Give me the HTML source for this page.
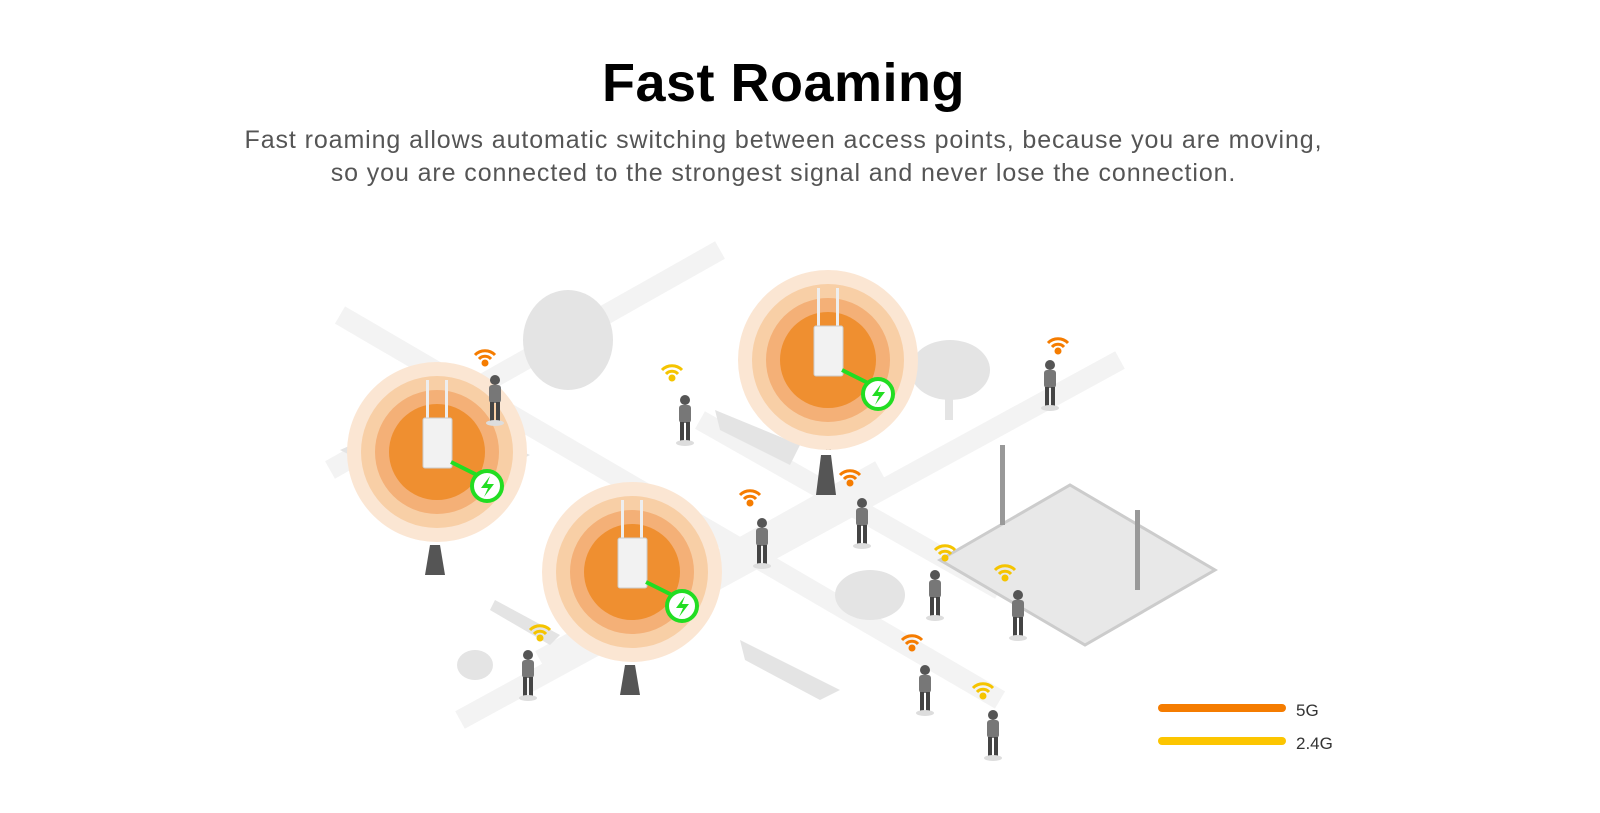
<!DOCTYPE html>
<html><head><meta charset="utf-8"><style>
html,body{margin:0;padding:0;background:#fff;width:1600px;height:813px;overflow:hidden;font-family:"Liberation Sans",sans-serif}
h1{position:absolute;top:52px;left:0;width:1567px;text-align:center;margin:0;font-size:54px;font-weight:bold;color:#000;letter-spacing:0.5px}
.sub{position:absolute;top:124px;left:0;width:1567px;text-align:center;font-size:25px;line-height:33px;color:#555;letter-spacing:0.9px}
svg{position:absolute;left:0;top:0}
</style></head><body>
<h1>Fast Roaming</h1>
<div class="sub">Fast roaming allows automatic switching between access points, because you are moving,<br>so you are connected to the strongest signal and never lose the connection.</div>
<svg width="1600" height="813" viewBox="0 0 1600 813">
<defs>
<g id="p"><circle cx="0" cy="-30" r="5" fill="#555"/><rect x="-6" y="-25" width="12" height="18" rx="3" fill="#777"/><rect x="-5" y="-8" width="4" height="20" fill="#444"/><rect x="1" y="-8" width="4" height="20" fill="#444"/><ellipse cx="0" cy="13" rx="9" ry="3" fill="#ddd"/></g>
<g id="wo" fill="none" stroke="#f57c00" stroke-width="3"><path d="M-10,-40 a14,14 0 0 1 20,0"/><path d="M-6,-36 a8,8 0 0 1 12,0"/><circle cx="0" cy="-32" r="2" fill="#f57c00"/></g>
<g id="wy" fill="none" stroke="#f5c400" stroke-width="3"><path d="M-10,-40 a14,14 0 0 1 20,0"/><path d="M-6,-36 a8,8 0 0 1 12,0"/><circle cx="0" cy="-32" r="2" fill="#f5c400"/></g>
<g id="ap"><circle r="90" fill="#fbe6d3"/><circle r="76" fill="#f8cfa6"/><circle r="62" fill="#f4b077"/><circle r="48" fill="#ef8f30"/>
<rect x="-11" y="-72" width="3" height="40" fill="#eee"/><rect x="8" y="-72" width="3" height="40" fill="#eee"/>
<rect x="-14" y="-34" width="29" height="50" rx="2" fill="#f2f2f2" stroke="#ccc"/>
<path d="M14,10 L50,28" stroke="#22dd22" stroke-width="4"/><circle cx="50" cy="34" r="15" fill="#fff" stroke="#22dd22" stroke-width="4"/><path d="M53,24 L44,36 L51,36 L47,45 L57,32 L50,32 Z" fill="#22dd22"/></g>
</defs>
<g fill="none" stroke="#f3f3f3" stroke-width="20">
<path d="M340,315 L1000,700"/><path d="M460,720 L1120,360"/><path d="M330,470 L720,250"/><path d="M700,420 L1000,590"/><path d="M540,660 L880,470"/>
</g>
<polygon points="940,560 1070,485 1215,570 1085,645" fill="#e8e8e8" stroke="#ccc" stroke-width="3"/>
<rect x="1000" y="445" width="5" height="80" fill="#999"/><rect x="1135" y="510" width="5" height="80" fill="#999"/>
<g fill="#e4e4e4"><ellipse cx="568" cy="340" rx="45" ry="50"/><ellipse cx="950" cy="370" rx="40" ry="30"/><rect x="945" y="390" width="8" height="30"/>
<polygon points="340,450 430,410 530,455 440,500" /><ellipse cx="870" cy="595" rx="35" ry="25"/><polygon points="740,640 840,690 820,700 745,660"/>
<polygon points="495,600 560,635 550,645 490,610"/><ellipse cx="475" cy="665" rx="18" ry="15"/><polygon points="715,410 800,445 790,465 720,430"/></g>
<g fill="#555"><rect x="435" y="480" width="5" height="60"/><path d="M430,545 l10,0 5,30 -20,0z"/><rect x="630" y="600" width="5" height="60"/><path d="M625,665 l10,0 5,30 -20,0z"/><rect x="826" y="390" width="5" height="60"/><path d="M821,455 l10,0 5,40 -20,0z"/></g>
<use href="#ap" x="437" y="452"/><use href="#ap" x="632" y="572"/><use href="#ap" x="828" y="360"/>
<g><use href="#p" x="495" y="410"/><use href="#wo" x="485" y="395"/>
<use href="#p" x="685" y="430"/><use href="#wy" x="672" y="410"/>
<use href="#p" x="1050" y="395"/><use href="#wo" x="1058" y="383"/>
<use href="#p" x="862" y="533"/><use href="#wo" x="850" y="515"/>
<use href="#p" x="762" y="553"/><use href="#wo" x="750" y="535"/>
<use href="#p" x="935" y="605"/><use href="#wy" x="945" y="590"/>
<use href="#p" x="1018" y="625"/><use href="#wy" x="1005" y="610"/>
<use href="#p" x="528" y="685"/><use href="#wy" x="540" y="670"/>
<use href="#p" x="925" y="700"/><use href="#wo" x="912" y="680"/>
<use href="#p" x="993" y="745"/><use href="#wy" x="983" y="728"/></g>
<rect x="1158" y="704" width="128" height="8" rx="4" fill="#f57c00"/>
<rect x="1158" y="737" width="128" height="8" rx="4" fill="#fcc500"/>
<text x="1296" y="716" font-size="17" fill="#333" font-family="Liberation Sans,sans-serif">5G</text>
<text x="1296" y="749" font-size="17" fill="#333" font-family="Liberation Sans,sans-serif">2.4G</text>
</svg>
</body></html>
